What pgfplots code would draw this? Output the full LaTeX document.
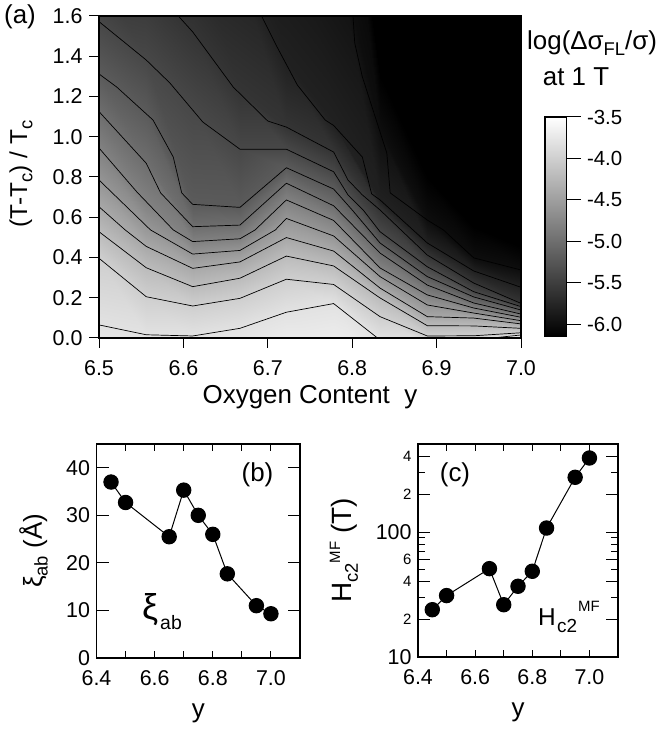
\documentclass[border=0pt]{standalone}
\usepackage{fontspec}
\setmainfont{Liberation Sans}
\usepackage{pgfplots}
\usepackage{pgfplotstable}
\pgfplotsset{compat=1.18}

% log(dsigma_FL/sigma) map: each row is one contour level, y read at the ten y columns
\pgfplotstableread[row sep=\\]{
x y z\\
6.5 -0.25 -3.6\\ 6.556 -0.30 -3.6\\ 6.611 -0.30 -3.6\\ 6.667 -0.25 -3.6\\ 6.722 -0.15 -3.6\\ 6.778 -0.15 -3.6\\ 6.833 -0.25 -3.6\\ 6.889 -0.25 -3.6\\ 6.944 -0.20 -3.6\\ 7.0 -0.15 -3.6\\
6.5 0.065 -3.8\\ 6.556 0.016 -3.8\\ 6.611 0.010 -3.8\\ 6.667 0.048 -3.8\\ 6.722 0.128 -3.8\\ 6.778 0.171 -3.8\\ 6.833 -0.010 -3.8\\ 6.889 -0.030 -3.8\\ 6.944 -0.010 -3.8\\ 7.0 0.015 -3.8\\
6.5 0.396 -4.0\\ 6.556 0.205 -4.0\\ 6.611 0.159 -4.0\\ 6.667 0.197 -4.0\\ 6.722 0.292 -4.0\\ 6.778 0.266 -4.0\\ 6.833 0.106 -4.0\\ 6.889 0.010 -4.0\\ 6.944 0.011 -4.0\\ 7.0 0.026 -4.0\\
6.5 0.528 -4.2\\ 6.556 0.349 -4.2\\ 6.611 0.255 -4.2\\ 6.667 0.297 -4.2\\ 6.722 0.407 -4.2\\ 6.778 0.358 -4.2\\ 6.833 0.199 -4.2\\ 6.889 0.061 -4.2\\ 6.944 0.060 -4.2\\ 7.0 0.048 -4.2\\
6.5 0.652 -4.4\\ 6.556 0.455 -4.4\\ 6.611 0.346 -4.4\\ 6.667 0.378 -4.4\\ 6.722 0.499 -4.4\\ 6.778 0.432 -4.4\\ 6.833 0.248 -4.4\\ 6.889 0.106 -4.4\\ 6.944 0.099 -4.4\\ 7.0 0.070 -4.4\\
6.5 0.785 -4.6\\ 6.556 0.557 -4.6\\ 6.611 0.417 -4.6\\ 6.667 0.435 -4.6\\ 6.722 0.594 -4.6\\ 6.778 0.507 -4.6\\ 6.833 0.305 -4.6\\ 6.889 0.164 -4.6\\ 6.944 0.124 -4.6\\ 7.0 0.086 -4.6\\
6.5 0.944 -4.8\\ 6.556 0.671 -4.8\\ 6.611 0.479 -4.8\\ 6.667 0.493 -4.8\\ 6.722 0.686 -4.8\\ 6.778 0.584 -4.8\\ 6.833 0.348 -4.8\\ 6.889 0.214 -4.8\\ 6.944 0.149 -4.8\\ 7.0 0.103 -4.8\\
6.5 1.125 -5.0\\ 6.556 0.868 -5.0\\ 6.611 0.553 -5.0\\ 6.667 0.561 -5.0\\ 6.722 0.769 -5.0\\ 6.778 0.657 -5.0\\ 6.833 0.422 -5.0\\ 6.889 0.263 -5.0\\ 6.944 0.174 -5.0\\ 7.0 0.119 -5.0\\
6.5 1.312 -5.2\\ 6.556 1.113 -5.2\\ 6.611 0.664 -5.2\\ 6.667 0.649 -5.2\\ 6.722 0.846 -5.2\\ 6.778 0.740 -5.2\\ 6.833 0.472 -5.2\\ 6.889 0.305 -5.2\\ 6.944 0.204 -5.2\\ 7.0 0.139 -5.2\\
6.5 1.572 -5.4\\ 6.556 1.381 -5.4\\ 6.611 1.133 -5.4\\ 6.667 0.938 -5.4\\ 6.722 0.938 -5.4\\ 6.778 0.826 -5.4\\ 6.833 0.528 -5.4\\ 6.889 0.354 -5.4\\ 6.944 0.230 -5.4\\ 7.0 0.156 -5.4\\
6.5 1.829 -5.6\\ 6.556 1.764 -5.6\\ 6.611 1.521 -5.6\\ 6.667 1.222 -5.6\\ 6.722 1.048 -5.6\\ 6.778 0.924 -5.6\\ 6.833 0.636 -5.6\\ 6.889 0.412 -5.6\\ 6.944 0.273 -5.6\\ 7.0 0.172 -5.6\\
6.5 2.15 -5.8\\ 6.556 2.10 -5.8\\ 6.611 2.00 -5.8\\ 6.667 1.824 -5.8\\ 6.722 1.362 -5.8\\ 6.778 1.056 -5.8\\ 6.833 0.686 -5.8\\ 6.889 0.472 -5.8\\ 6.944 0.333 -5.8\\ 7.0 0.252 -5.8\\
6.5 2.70 -6.0\\ 6.556 2.70 -6.0\\ 6.611 2.60 -6.0\\ 6.667 2.60 -6.0\\ 6.722 2.40 -6.0\\ 6.778 2.00 -6.0\\ 6.833 1.029 -6.0\\ 6.889 0.586 -6.0\\ 6.944 0.398 -6.0\\ 7.0 0.338 -6.0\\
6.5 3.00 -6.14\\ 6.556 3.00 -6.14\\ 6.611 3.00 -6.14\\ 6.667 3.00 -6.14\\ 6.722 3.00 -6.14\\ 6.778 3.00 -6.14\\ 6.833 1.30 -6.14\\ 6.889 0.80 -6.14\\ 6.944 0.55 -6.14\\ 7.0 0.45 -6.14\\
6.5 4 -6.14\\ 6.556 4 -6.14\\ 6.611 4 -6.14\\ 6.667 4 -6.14\\ 6.722 4 -6.14\\ 6.778 4 -6.14\\ 6.833 4 -6.14\\ 6.889 4 -6.14\\ 6.944 4 -6.14\\ 7.0 4 -6.14\\
}\mapdata

\pgfplotstableread[row sep=\\]{
x y z\\ 0 -6.14 -6.14\\ 1 -6.14 -6.14\\ 0 -3.5 -3.5\\ 1 -3.5 -3.5\\
}\bardata

\newcommand{\tickfont}{\fontsize{21.5}{21.5}\selectfont}
\newcommand{\labfont}{\fontsize{26}{26}\selectfont}
\newcommand{\smallfont}{\fontsize{15}{15}\selectfont}
\newcommand{\lsub}[1]{\raisebox{-0.22em}{\fontsize{18.5}{18.5}\selectfont #1}}
\newcommand{\lsup}[1]{\raisebox{0.42em}{\fontsize{15}{15}\selectfont #1}}

\pgfplotsset{
  every axis/.append style={
    scale only axis, anchor=south west, axis line style={line width=1.1bp},
    tick style={black, line width=1bp},
    tick label style={font=\tickfont},
    xticklabel style={yshift=-9bp},
    yticklabel style={xshift=-3bp},
    /pgf/number format/assume math mode=true,
    /pgf/number format/fixed, /pgf/number format/fixed zerofill, /pgf/number format/precision=1,
  },
  contour/.style={black, line width=0.7bp, no markers, forget plot},
  lowpanel/.style={
    xmin=6.4, xmax=7.1, xtick={6.4,6.6,6.8,7.0},
    major x tick style={draw=none}, minor xtick={6.4,6.5,...,7.1}, minor tick length=7bp,
    tick align=inside, major tick length=12bp, xlabel={y},
    every axis x label/.style={at={(axis description cs:0.5,0)}, anchor=center, font=\labfont, yshift=-55bp},
  },
  dots/.style={black, line width=1bp, mark=*, mark size=7.2bp, mark options={fill=black}},
}

\begin{document}
\begin{tikzpicture}[x=1bp,y=1bp]
\useasboundingbox (0,0) rectangle (660,730);

% (a) map
\begin{axis}[
    at={(99bp,392bp)}, width=422bp, height=322bp,
    xmin=6.5, xmax=7.0, ymin=0, ymax=1.6,
    xtick={6.5,6.6,...,7.01}, ytick={0,0.2,...,1.61},
    tick align=outside, xtick pos=bottom, ytick pos=left, major tick length=10bp,
    colormap={bw}{gray(0cm)=(0); gray(1cm)=(1)},
    point meta min=-6.14, point meta max=-3.5,
    xlabel={Oxygen Content\ \ y}, ylabel={(T-T\lsub{c}) / T\lsub{c}},
    every axis x label/.style={at={(axis description cs:0.5,0)}, anchor=center, font=\labfont, yshift=-59bp},
    every axis y label/.style={at={(axis description cs:0,0.5)}, xshift=-78bp, yshift=3bp, rotate=90, anchor=center, font=\fontsize{24.5}{24.5}\selectfont},
    axis on top,
]
\addplot[surf, shader=interp, mesh/cols=10, point meta=explicit, forget plot]
    table[meta=z] {\mapdata};
\addplot[contour] coordinates {(6.5,0.065) (6.556,0.016) (6.611,0.010) (6.667,0.048) (6.722,0.128) (6.778,0.171) (6.833,-0.010) (6.889,-0.030) (6.944,-0.010) (7.0,0.015)};
\addplot[contour] coordinates {(6.5,0.396) (6.556,0.205) (6.611,0.159) (6.667,0.197) (6.722,0.292) (6.778,0.266) (6.833,0.106) (6.889,0.010) (6.944,0.011) (7.0,0.026)};
\addplot[contour] coordinates {(6.5,0.528) (6.556,0.349) (6.611,0.255) (6.667,0.297) (6.722,0.407) (6.778,0.358) (6.833,0.199) (6.889,0.061) (6.944,0.060) (7.0,0.048)};
\addplot[contour] coordinates {(6.5,0.652) (6.531,0.537) (6.556,0.455) (6.611,0.346) (6.667,0.378) (6.722,0.499) (6.778,0.432) (6.833,0.248) (6.889,0.106) (6.944,0.099) (7.0,0.070)};
\addplot[contour] coordinates {(6.5,0.785) (6.561,0.537) (6.611,0.417) (6.667,0.435) (6.709,0.537) (6.722,0.594) (6.778,0.507) (6.833,0.305) (6.889,0.164) (6.944,0.124) (7.0,0.086)};
\addplot[contour] coordinates {(6.5,0.944) (6.545,0.725) (6.588,0.537) (6.611,0.479) (6.667,0.493) (6.685,0.537) (6.722,0.686) (6.778,0.584) (6.833,0.348) (6.889,0.214) (6.944,0.149) (7.0,0.103)};
\addplot[contour] coordinates {(6.5,1.125) (6.556,0.868) (6.573,0.721) (6.611,0.553) (6.667,0.561) (6.722,0.769) (6.778,0.657) (6.833,0.422) (6.889,0.263) (6.944,0.174) (7.0,0.119)};
\addplot[contour] coordinates {(6.5,1.312) (6.521,1.247) (6.564,1.083) (6.588,0.899) (6.598,0.721) (6.611,0.664) (6.667,0.649) (6.722,0.846) (6.778,0.740) (6.800,0.636) (6.833,0.472) (6.889,0.305) (6.944,0.204) (7.0,0.139)};
\addplot[contour] coordinates {(6.5,1.572) (6.556,1.381) (6.584,1.267) (6.623,1.073) (6.667,0.938) (6.722,0.938) (6.778,0.826) (6.795,0.711) (6.813,0.636) (6.833,0.528) (6.889,0.354) (6.944,0.230) (7.0,0.156)};
\addplot[contour] coordinates {(6.594,1.6) (6.611,1.521) (6.659,1.247) (6.700,1.078) (6.722,1.048) (6.778,0.924) (6.795,0.785) (6.812,0.711) (6.833,0.636) (6.889,0.412) (6.944,0.273) (7.0,0.172)};
\addplot[contour] coordinates {(6.693,1.597) (6.711,1.446) (6.735,1.257) (6.768,1.083) (6.778,1.056) (6.812,0.899) (6.823,0.716) (6.833,0.686) (6.889,0.472) (6.944,0.333) (7.0,0.252)};
\addplot[contour] coordinates {(6.801,1.597) (6.803,1.466) (6.812,1.298) (6.841,0.919) (6.845,0.721) (6.889,0.586) (6.908,0.537) (6.944,0.398) (7.0,0.338)};
\end{axis}

% gray scale bar
\begin{axis}[
    at={(545bp,394bp)}, width=21.5bp, height=219bp,
    xmin=0, xmax=1, ymin=-6.14, ymax=-3.5, xtick=\empty,
    ytick={-6,-5.5,-5,-4.5,-4,-3.5}, yticklabels={-6.0,-5.5,-5.0,-4.5,-4.0,-3.5},
    tick align=outside, ytick pos=right, major tick length=14bp,
    yticklabel style={xshift=6bp, font=\fontsize{20.5}{20.5}\selectfont},
    colormap={bw}{gray(0cm)=(0); gray(1cm)=(1)},
    point meta min=-6.14, point meta max=-3.5, axis on top,
]
\addplot[surf, shader=interp, mesh/cols=2, point meta=explicit, forget plot]
    table[meta=z] {\bardata};
\end{axis}

% (b) coherence length
\begin{axis}[
    lowpanel, at={(96.5bp,72bp)}, width=203.5bp, height=214bp,
    ymin=0, ymax=45, ytick={0,10,20,30,40},
    yticklabels={0,10,20,30,40},
    ylabel={ξ\lsub{ab} (Å)},
    every axis y label/.style={at={(axis description cs:0,0.5)}, xshift=-63bp, rotate=90, anchor=center, font=\labfont},
]
\addplot[dots] coordinates {(6.45,37) (6.5,32.7) (6.65,25.5) (6.7,35.3) (6.75,30) (6.8,26) (6.85,17.7) (6.95,11) (7.0,9.3)};
\end{axis}

% (c) upper critical field
\begin{axis}[
    lowpanel, at={(418bp,73bp)}, width=200bp, height=213bp,
    ymode=log, ymin=10, ymax=506, log basis y=10,
    ytick={10,20,40,60,100,200,400},
    yticklabels={10\hspace{7bp},{\smallfont 2},{\smallfont 4},{\smallfont 6},100\hspace{7bp},{\smallfont 2},{\smallfont 4}},
    minor ytick={30,50,70,80,90,300,500},
    ylabel={H\lsub{c2}\lsup{MF} (T)},
    every axis y label/.style={at={(axis description cs:0,0.5)}, xshift=-74bp, rotate=90, anchor=center, font=\fontsize{28}{28}\selectfont},
]
\addplot[dots] coordinates {(6.45,23.9) (6.5,31) (6.65,50.9) (6.7,26.2) (6.75,36.8) (6.8,48.5) (6.85,107.6) (6.95,274) (7.0,391)};
\end{axis}

\node[font=\labfont] at (20,713) {(a)};
\node[font=\labfont, anchor=base west, inner sep=0pt] at (527,680) {log(Δσ\lsub{FL}/σ)};
\node[font=\labfont, anchor=base, inner sep=0pt] at (576,644) {at 1 T};
\node[font=\labfont] at (257.5,255) {(b)};
\node[font=\labfont] at (455,255) {(c)};
\node[font=\fontsize{36}{36}\selectfont, anchor=base west, inner sep=0pt] at (142,110) {ξ};
\node[font=\fontsize{19.5}{19.5}\selectfont, anchor=base west, inner sep=0pt] at (160,100) {ab};
\node[font=\fontsize{24.5}{24.5}\selectfont, anchor=base west, inner sep=0pt] at (538,104) {H};
\node[font=\fontsize{19}{19}\selectfont, anchor=base west, inner sep=0pt] at (557,97) {c2};
\node[font=\fontsize{15}{15}\selectfont, anchor=base west, inner sep=0pt] at (578,118) {MF};
\end{tikzpicture}
\end{document}
